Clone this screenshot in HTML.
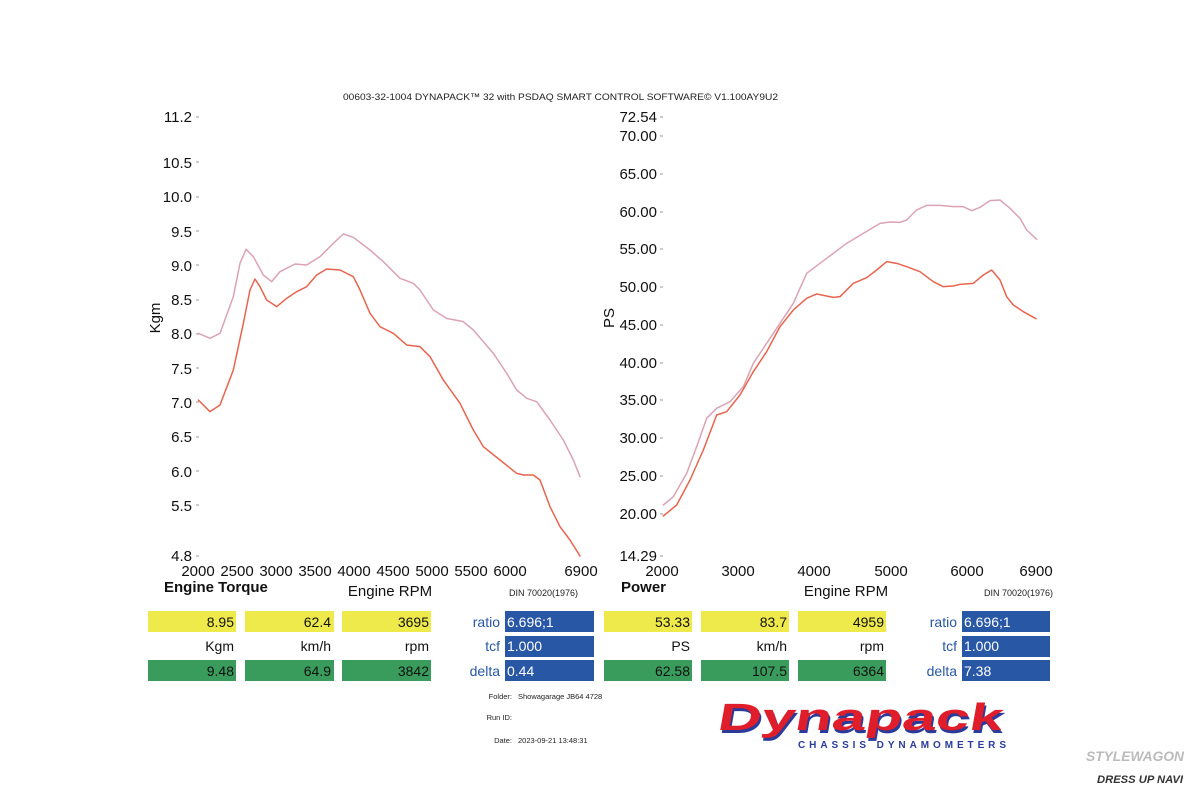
<!DOCTYPE html>
<html><head><meta charset="utf-8"><style>
body{margin:0;background:#fff;}
svg{display:block;font-family:"Liberation Sans",sans-serif;}
</style></head><body>
<svg width="1200" height="798" viewBox="0 0 1200 798" xmlns="http://www.w3.org/2000/svg">
<rect width="1200" height="798" fill="#fff"/>
<text x="343" y="100" font-size="9.5" fill="#222" textLength="435" lengthAdjust="spacingAndGlyphs">00603-32-1004 DYNAPACK™ 32 with PSDAQ SMART CONTROL SOFTWARE© V1.100AY9U2</text>

<!-- Left axis ticks -->
<g font-size="15" fill="#111" text-anchor="end">
<text x="192" y="122">11.2</text>
<text x="192" y="168">10.5</text>
<text x="192" y="202">10.0</text>
<text x="192" y="237">9.5</text>
<text x="192" y="271">9.0</text>
<text x="192" y="305">8.5</text>
<text x="192" y="339">8.0</text>
<text x="192" y="374">7.5</text>
<text x="192" y="408">7.0</text>
<text x="192" y="442">6.5</text>
<text x="192" y="477">6.0</text>
<text x="192" y="511">5.5</text>
<text x="192" y="561">4.8</text>
</g>
<g stroke="#999" stroke-width="1">
<line x1="196" y1="117" x2="199" y2="117"/><line x1="196" y1="162" x2="199" y2="162"/><line x1="196" y1="197" x2="199" y2="197"/><line x1="196" y1="231" x2="199" y2="231"/><line x1="196" y1="265" x2="199" y2="265"/><line x1="196" y1="300" x2="199" y2="300"/><line x1="196" y1="334" x2="199" y2="334"/><line x1="196" y1="368" x2="199" y2="368"/><line x1="196" y1="402" x2="199" y2="402"/><line x1="196" y1="437" x2="199" y2="437"/><line x1="196" y1="471" x2="199" y2="471"/><line x1="196" y1="505" x2="199" y2="505"/><line x1="196" y1="556" x2="199" y2="556"/>
</g>
<g font-size="15" fill="#111" text-anchor="middle">
<text x="198" y="576">2000</text><text x="237" y="576">2500</text><text x="276" y="576">3000</text><text x="315" y="576">3500</text><text x="354" y="576">4000</text><text x="393" y="576">4500</text><text x="432" y="576">5000</text><text x="471" y="576">5500</text><text x="510" y="576">6000</text><text x="581" y="576">6900</text>
</g>
<text x="160" y="318" font-size="15" fill="#111" transform="rotate(-90 160 318)" text-anchor="middle">Kgm</text>
<text x="164" y="592" font-size="15" font-weight="bold" fill="#111">Engine Torque</text>
<text x="390" y="596" font-size="15" fill="#111" text-anchor="middle">Engine RPM</text>
<text x="578" y="596" font-size="9" fill="#222" text-anchor="end">DIN 70020(1976)</text>

<!-- Right axis ticks -->
<g font-size="15" fill="#111" text-anchor="end">
<text x="657" y="122">72.54</text><text x="657" y="141">70.00</text><text x="657" y="179">65.00</text><text x="657" y="217">60.00</text><text x="657" y="254">55.00</text><text x="657" y="292">50.00</text><text x="657" y="330">45.00</text><text x="657" y="368">40.00</text><text x="657" y="405">35.00</text><text x="657" y="443">30.00</text><text x="657" y="481">25.00</text><text x="657" y="519">20.00</text><text x="657" y="561">14.29</text>
</g>
<g stroke="#999" stroke-width="1">
<line x1="660" y1="117" x2="663" y2="117"/><line x1="660" y1="136" x2="663" y2="136"/><line x1="660" y1="174" x2="663" y2="174"/><line x1="660" y1="212" x2="663" y2="212"/><line x1="660" y1="249" x2="663" y2="249"/><line x1="660" y1="287" x2="663" y2="287"/><line x1="660" y1="325" x2="663" y2="325"/><line x1="660" y1="363" x2="663" y2="363"/><line x1="660" y1="400" x2="663" y2="400"/><line x1="660" y1="438" x2="663" y2="438"/><line x1="660" y1="476" x2="663" y2="476"/><line x1="660" y1="514" x2="663" y2="514"/><line x1="660" y1="556" x2="663" y2="556"/>
</g>
<text x="614" y="318" font-size="15" fill="#111" transform="rotate(-90 614 318)" text-anchor="middle">PS</text>
<g font-size="15" fill="#111" text-anchor="middle">
<text x="662" y="576">2000</text><text x="738" y="576">3000</text><text x="814" y="576">4000</text><text x="891" y="576">5000</text><text x="967" y="576">6000</text><text x="1036" y="576">6900</text>
</g>
<text x="621" y="592" font-size="15" font-weight="bold" fill="#111">Power</text>
<text x="846" y="596" font-size="15" fill="#111" text-anchor="middle">Engine RPM</text>
<text x="1053" y="596" font-size="9" fill="#222" text-anchor="end">DIN 70020(1976)</text>

<!-- Curves -->
<g transform="translate(140,90) scale(0.33333)" fill="none" stroke-width="4.5" stroke-linejoin="round" stroke-linecap="round">
<polyline stroke="#dba3b3" points="175,730 210,745 240,730 280,620 300,520 318,478 340,500 370,555 395,575 420,545 465,522 500,525 540,500 580,460 610,432 640,442 690,480 730,515 780,565 820,580 840,600 880,660 920,685 970,695 1000,720 1060,790 1100,850 1130,900 1160,925 1190,935 1230,990 1270,1050 1300,1110 1320,1160"/>
<polyline stroke="#e8644e" points="175,930 210,965 240,945 280,840 310,700 330,600 345,567 360,590 380,630 410,650 440,625 470,605 500,590 530,555 560,537 600,540 640,560 660,600 690,670 720,710 760,730 800,765 840,770 870,800 910,870 960,940 1000,1020 1030,1070 1080,1110 1130,1150 1150,1155 1180,1155 1200,1170 1230,1250 1260,1310 1290,1350 1320,1398"/>
</g>
<g transform="translate(600,90) scale(0.33333)" fill="none" stroke-width="4.5" stroke-linejoin="round" stroke-linecap="round">
<polyline stroke="#dba3b3" points="190,1245 220,1220 260,1150 290,1070 320,985 350,955 390,935 430,890 460,820 500,760 540,700 580,640 620,550 660,520 700,490 740,460 790,430 840,400 870,396 900,397 920,390 950,360 980,346 1020,346 1060,350 1090,350 1115,362 1140,352 1170,332 1200,330 1230,355 1260,385 1280,420 1310,448"/>
<polyline stroke="#e8644e" points="190,1278 230,1245 270,1170 310,1080 350,975 380,965 420,915 460,845 500,785 540,710 580,660 620,625 650,612 700,622 720,620 760,580 800,563 830,540 860,515 890,520 920,530 960,545 1000,575 1030,590 1060,588 1080,583 1120,580 1150,555 1175,540 1200,570 1220,620 1240,645 1270,665 1308,686"/>
</g>

<!-- Table -->
<g font-size="14">
<rect x="148" y="611" width="88" height="21" fill="#efea4c"/><rect x="245" y="611" width="89" height="21" fill="#efea4c"/><rect x="342" y="611" width="89" height="21" fill="#efea4c"/>
<rect x="148" y="660" width="88" height="21" fill="#3a9c5c"/><rect x="245" y="660" width="89" height="21" fill="#3a9c5c"/><rect x="342" y="660" width="89" height="21" fill="#3a9c5c"/>
<rect x="505" y="611" width="89" height="21" fill="#2857a6"/><rect x="505" y="636" width="89" height="21" fill="#2857a6"/><rect x="505" y="660" width="89" height="21" fill="#2857a6"/>
<rect x="604" y="611" width="88" height="21" fill="#efea4c"/><rect x="701" y="611" width="88" height="21" fill="#efea4c"/><rect x="798" y="611" width="88" height="21" fill="#efea4c"/>
<rect x="604" y="660" width="88" height="21" fill="#3a9c5c"/><rect x="701" y="660" width="88" height="21" fill="#3a9c5c"/><rect x="798" y="660" width="88" height="21" fill="#3a9c5c"/>
<rect x="962" y="611" width="88" height="21" fill="#2857a6"/><rect x="962" y="636" width="88" height="21" fill="#2857a6"/><rect x="962" y="660" width="88" height="21" fill="#2857a6"/>
<g text-anchor="end" fill="#111">
<text x="234" y="627">8.95</text><text x="331" y="627">62.4</text><text x="429" y="627">3695</text>
<text x="234" y="651">Kgm</text><text x="331" y="651">km/h</text><text x="429" y="651">rpm</text>
<text x="234" y="676">9.48</text><text x="331" y="676">64.9</text><text x="429" y="676">3842</text>
<text x="690" y="627">53.33</text><text x="787" y="627">83.7</text><text x="884" y="627">4959</text>
<text x="690" y="651">PS</text><text x="787" y="651">km/h</text><text x="884" y="651">rpm</text>
<text x="690" y="676">62.58</text><text x="787" y="676">107.5</text><text x="884" y="676">6364</text>
</g>
<g text-anchor="end" fill="#2857a6">
<text x="500" y="627">ratio</text><text x="500" y="651">tcf</text><text x="500" y="676">delta</text>
<text x="957" y="627">ratio</text><text x="957" y="651">tcf</text><text x="957" y="676">delta</text>
</g>
<g fill="#fff">
<text x="507" y="627">6.696;1</text><text x="507" y="651">1.000</text><text x="507" y="676">0.44</text>
<text x="964" y="627">6.696;1</text><text x="964" y="651">1.000</text><text x="964" y="676">7.38</text>
</g>
</g>

<g font-size="7.5" fill="#222">
<text x="512" y="699" text-anchor="end">Folder:</text><text x="518" y="699">Showagarage JB64 4728</text>
<text x="512" y="720" text-anchor="end">Run ID:</text>
<text x="512" y="743" text-anchor="end">Date:</text><text x="518" y="743">2023-09-21 13:48:31</text>
</g>

<!-- Logo -->
<g transform="skewX(-10)">
<text x="847" y="733" font-size="38" font-weight="bold" fill="#2a3b9a" textLength="285" lengthAdjust="spacingAndGlyphs">Dynapack</text>
<text x="845" y="730" font-size="38" font-weight="bold" fill="#e01d2a" textLength="285" lengthAdjust="spacingAndGlyphs">Dynapack</text>
</g>
<text x="798" y="748" font-size="10" font-weight="bold" fill="#2a3b9a" textLength="208" lengthAdjust="spacing">CHASSIS DYNAMOMETERS</text>

<text x="1086" y="761" font-size="14" font-weight="bold" font-style="italic" fill="#bbb" textLength="98" lengthAdjust="spacingAndGlyphs">STYLEWAGON</text>
<text x="1097" y="783" font-size="11" font-weight="bold" font-style="italic" fill="#333" textLength="86" lengthAdjust="spacingAndGlyphs">DRESS UP NAVI</text>
</svg>
</body></html>
